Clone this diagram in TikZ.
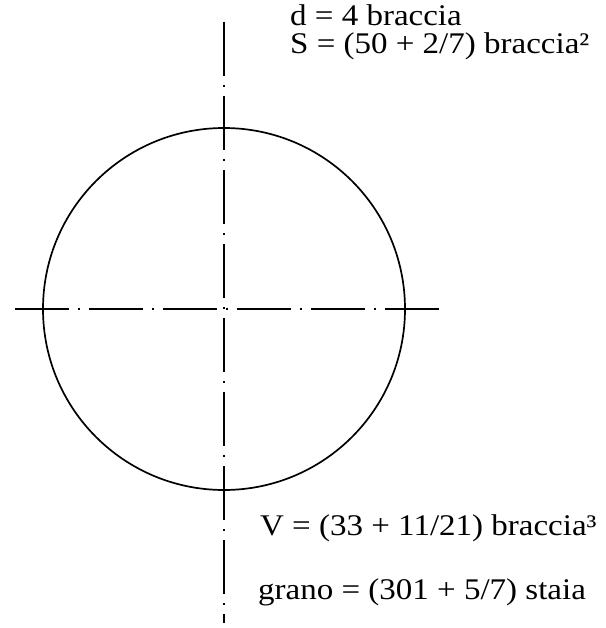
\documentclass[tikz,border=0pt]{standalone}
\usepackage{fontspec}
\setmainfont{Liberation Serif}[FakeStretch=1.1]
\tikzset{
  axisline/.style={line width=1.6pt,dash pattern=on 54pt off 9pt on 2pt off 9pt},
  lbl/.style={anchor=base west,inner sep=0pt,font=\fontsize{30}{30}\selectfont}
}
\begin{document}
\begin{tikzpicture}[x=1pt,y=-1pt]
  \useasboundingbox (0,0) rectangle (605,628);
  \coordinate (o) at (224,309);
  \draw[line width=1.7pt] (o) circle (181);
  \coordinate (vtop) at (224,22);
  \coordinate (vbot) at (224,623);
  \coordinate (hleft) at (15,309);
  \coordinate (hright) at (440,309);
  \draw[axisline] (vtop) -- (vbot);
  \draw[axisline] (hleft) -- (hright);
  \node[lbl] (d) at (290,26) {d = 4 braccia};
  \node[lbl] (S) at (290,54) {S = (50 + 2/7) braccia²};
  \node[lbl] (V) at (260,535) {V = (33 + 11/21) braccia³};
  \node[lbl] (grano) at (258,599) {grano = (301 + 5/7) staia};
\end{tikzpicture}
\end{document}
